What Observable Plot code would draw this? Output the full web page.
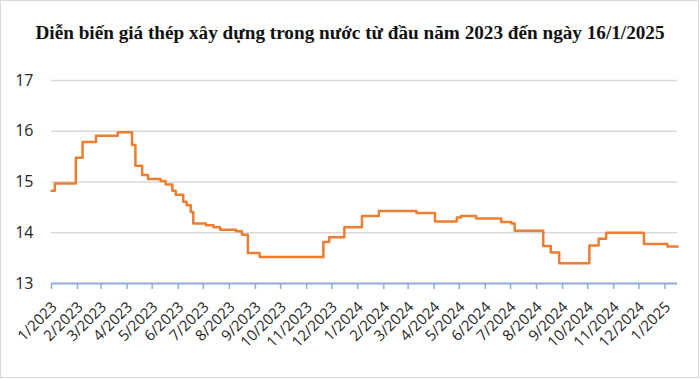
<!DOCTYPE html>
<html><head><meta charset="utf-8">
<script src="https://cdn.jsdelivr.net/npm/d3@7"></script>
<script src="https://cdn.jsdelivr.net/npm/@observablehq/plot@0.6"></script>
<style>
html,body{margin:0;padding:0;background:#fff;}
#wrap{position:relative;width:700px;height:379px;overflow:hidden;}
#frame{position:absolute;left:0;top:0;width:699px;height:378px;border:1px solid #d9d9d9;box-sizing:border-box;pointer-events:none;}
#title{height:50px;line-height:65px;text-align:center;font-family:"Liberation Serif","Times New Roman",serif;font-weight:bold;font-size:19.2px;color:#111;white-space:nowrap;}
svg{display:block;}
</style></head>
<body><div id="wrap"><div id="title">Diễn biến giá thép xây dựng trong nước từ đầu năm 2023 đến ngày 16/1/2025</div><div id="chart"></div><div id="frame"></div></div>
<script>
const changeDates = ["2023-01-01","2023-01-05","2023-01-30","2023-02-07","2023-02-23","2023-03-21","2023-04-07","2023-04-11","2023-04-19","2023-04-26","2023-05-11","2023-05-17","2023-05-25","2023-05-29","2023-06-07","2023-06-11","2023-06-16","2023-06-19","2023-07-04","2023-07-13","2023-07-21","2023-08-09","2023-08-16","2023-08-23","2023-09-06","2023-11-21","2023-11-28","2023-12-16","2024-01-06","2024-01-26","2024-03-11","2024-04-02","2024-04-28","2024-05-03","2024-05-21","2024-06-20","2024-07-02","2024-07-06","2024-08-09","2024-08-18","2024-08-28","2024-10-03","2024-10-14","2024-10-23","2024-12-07","2025-01-04","2025-01-16"];
const prices = [14.83,14.97,15.48,15.79,15.91,15.98,15.73,15.32,15.14,15.06,15.02,14.95,14.83,14.75,14.61,14.54,14.41,14.18,14.15,14.11,14.06,14.03,13.96,13.60,13.52,13.82,13.91,14.11,14.33,14.43,14.39,14.22,14.30,14.33,14.28,14.21,14.18,14.04,13.74,13.61,13.40,13.75,13.88,14.00,13.78,13.73,13.73];
const tickLabels = ["1/2023","2/2023","3/2023","4/2023","5/2023","6/2023","7/2023","8/2023","9/2023","10/2023","11/2023","12/2023","1/2024","2/2024","3/2024","4/2024","5/2024","6/2024","7/2024","8/2024","9/2024","10/2024","11/2024","12/2024","1/2025"];
const yTicks = [13,14,15,16,17];

const data = changeDates.map((d,i)=>({date:new Date(d+"T00:00:00Z"), price:prices[i]}));
const tickDates = tickLabels.map(s=>{const [m,y]=s.split("/").map(Number);return new Date(Date.UTC(y,m-1,1));});
const labelOf = new Map(tickDates.map((d,i)=>[+d,tickLabels[i]]));
const xStart = data[0].date, xEnd = data[data.length-1].date;

const chart = Plot.plot({
  width:700, height:329,
  marginTop:30, marginBottom:96, marginLeft:51, marginRight:23,
  style:{fontFamily:"'Open Sans', sans-serif", color:"#262626", background:"transparent"},
  x:{type:"utc", domain:[xStart,xEnd]},
  y:{domain:[13,17]},
  marks:[
    Plot.gridY(yTicks.slice(1), {stroke:"#d9d9d9", strokeOpacity:1, strokeWidth:1.5}),
    Plot.axisY(yTicks, {tickSize:0, tickPadding:18, fontSize:16, label:null, fill:"#262626", tickFormat:d=>String(d)}),
    Plot.ruleX(tickDates, {x:d=>d, y1:13, y2:13, insetBottom:-6, stroke:"#8eaadb", strokeWidth:1.5}),
    Plot.ruleY([13], {stroke:"#8eaadb", strokeWidth:2, x1:xStart, x2:xEnd}),
    Plot.axisX(tickDates, {tickSize:0, tickRotate:-45, tickPadding:21, dx:3, fontSize:15, label:null, tickFormat:d=>labelOf.get(+d), fill:"#262626"}),
    Plot.line(data, {x:"date", y:"price", curve:"step-after", stroke:"#ED7D31", strokeWidth:2.5})
  ]
});
document.getElementById("chart").appendChild(chart);
</script></body></html>
